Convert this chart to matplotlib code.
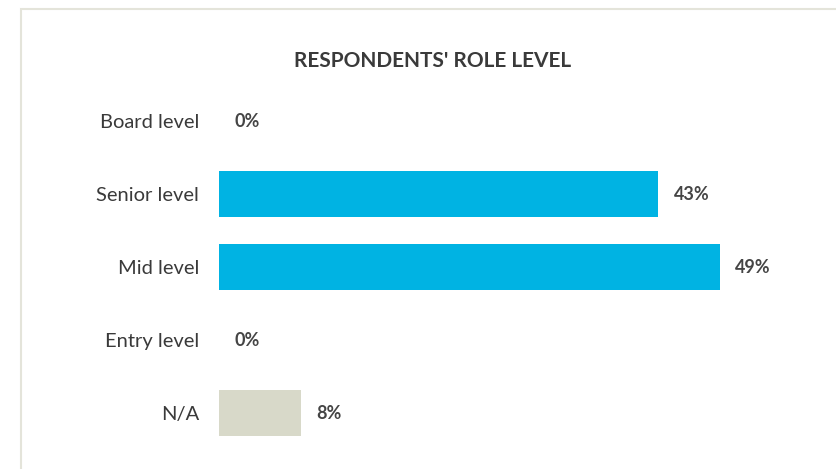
import matplotlib.pyplot as plt
from matplotlib.patches import Rectangle

plt.rcParams['font.family'] = ['Lato', 'DejaVu Sans']

categories = ["Board level", "Senior level", "Mid level", "Entry level", "N/A"]
values = [0, 43, 49, 0, 8]
colors = ["#00b3e3", "#00b3e3", "#00b3e3", "#00b3e3", "#d8d9c9"]
title = "RESPONDENTS' ROLE LEVEL"

W, H = 836, 469
fig = plt.figure(figsize=(W / 100, H / 100), dpi=100)
fig.patch.set_facecolor("white")

# light frame, open on the right and bottom
fig.patches.append(Rectangle((20.5 / W, -0.1), 1.2, 1.1 - 9 / H,
                             transform=fig.transFigure, fill=False,
                             edgecolor="#e4e4da", linewidth=1.5))

ax = fig.add_axes([219 / W, 1 - 449.5 / H, (W - 219) / W, 365 / H])
ypos = list(range(len(categories)))
ax.barh(ypos, values, height=0.63, color=colors)
ax.set_xlim(0, 60.4)
ax.set_ylim(4.5, -0.5)

for y, v in zip(ypos, values):
    ax.text(v + 1.5, y, f"{v}%", va="center", ha="left", fontsize=13,
            fontweight="bold", color="#454545")

ax.set_yticks(ypos)
ax.set_yticklabels(categories, fontsize=14.5, color="#3a3a3a")
ax.tick_params(axis="y", length=0, pad=14.4)
ax.set_xticks([])
for s in ax.spines.values():
    s.set_visible(False)

fig.text(433 / W, 1 - 61 / H, title, ha="center", va="center",
         fontsize=15, fontweight="bold", color="#3a3a3a")

fig.savefig("out.png", dpi=100)
